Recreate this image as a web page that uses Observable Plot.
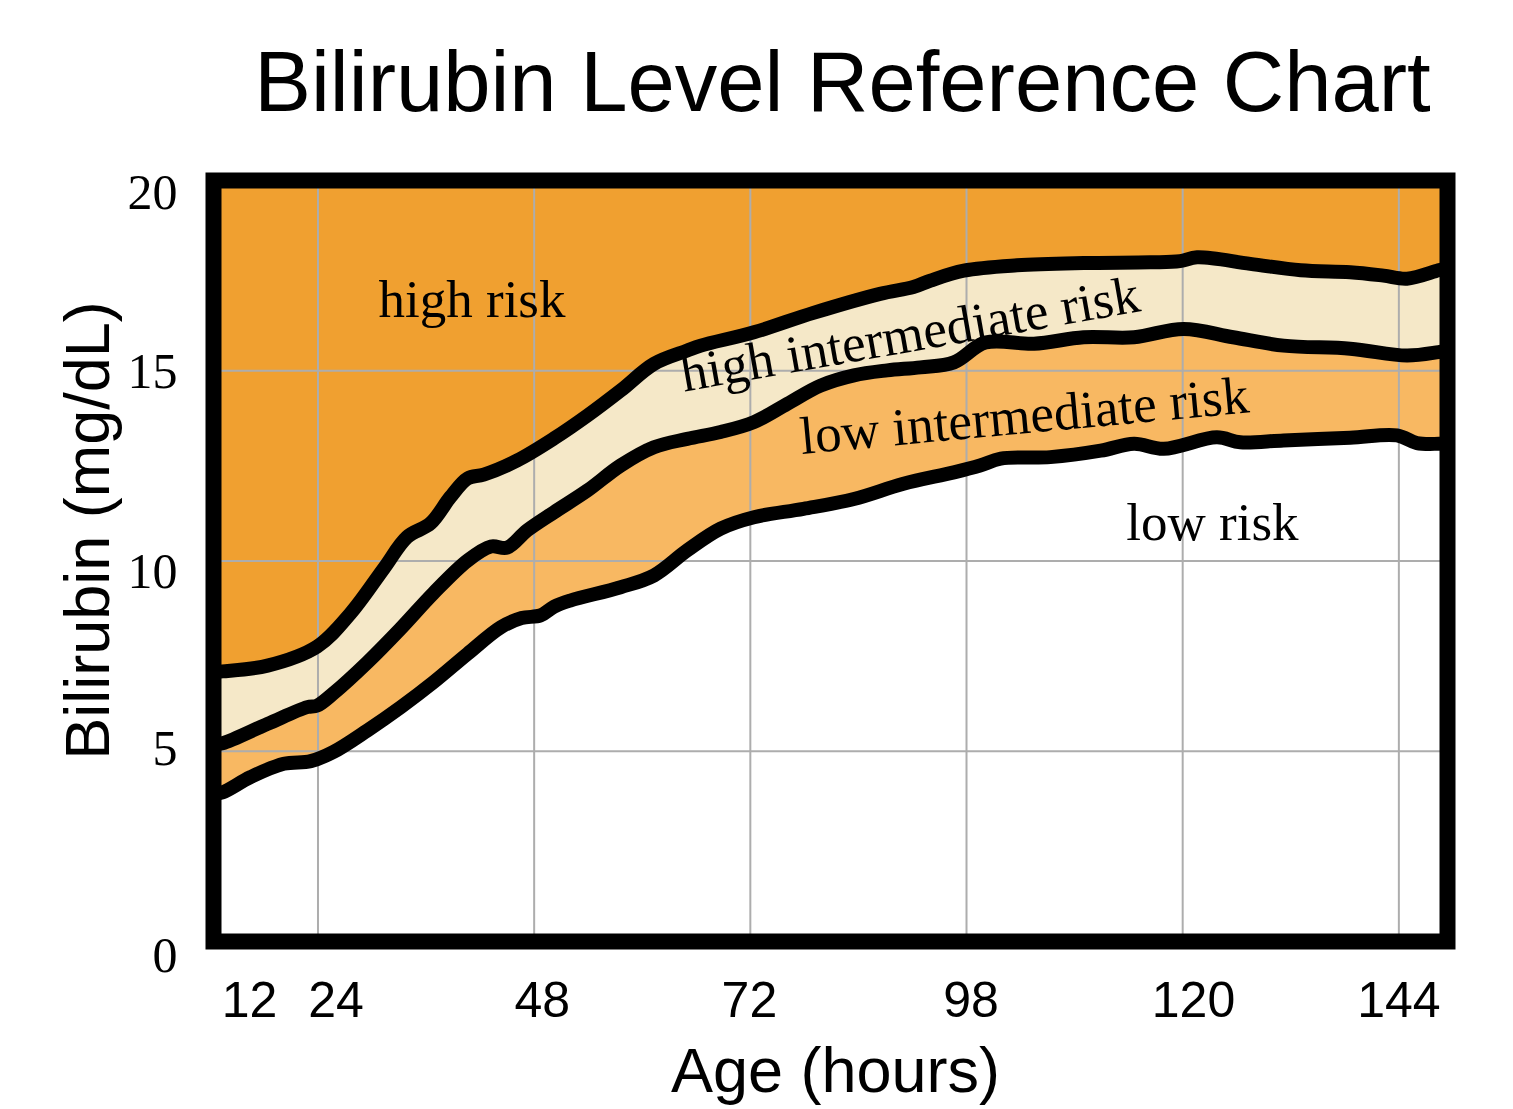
<!DOCTYPE html>
<html>
<head>
<meta charset="utf-8">
<script src="https://cdn.jsdelivr.net/npm/d3@7"></script>
<script src="https://cdn.jsdelivr.net/npm/@observablehq/plot@0.6"></script>
<style>html,body{margin:0;padding:0;background:#fff}</style>
</head>
<body>
<div id="chart"></div>
<script>
// ---- data ----
const hours95 = [12.4, 13.4, 18.4, 23.9, 27.6, 31.3, 33.9, 36.5, 38.7, 40.6, 42.4, 46.1, 50.2, 53.9, 57.6, 61.3, 65.0, 66.5, 72.4, 79.0, 86.4, 90.1, 92.0, 95.7, 101.6, 109.0, 116.4, 119.7, 121.6, 127.5, 133.1, 138.6, 142.3, 144.9, 148.4, 149.4];
const bili95  = [7.08, 7.10, 7.25, 7.75, 8.62, 9.80, 10.63, 10.99, 11.68, 12.17, 12.27, 12.64, 13.22, 13.82, 14.48, 15.18, 15.53, 15.66, 16.01, 16.52, 17.02, 17.20, 17.37, 17.63, 17.77, 17.83, 17.85, 17.88, 17.98, 17.81, 17.64, 17.59, 17.50, 17.42, 17.64, 17.70];

const hours75 = [12.4, 13.4, 18.4, 22.8, 23.9, 25.7, 29.5, 33.2, 36.8, 40.6, 43.2, 45.0, 47.2, 50.2, 53.9, 57.6, 61.3, 65.0, 68.7, 72.4, 76.1, 79.8, 83.5, 87.2, 90.9, 94.6, 98.1, 103.5, 109.0, 114.6, 120.1, 125.6, 131.2, 138.6, 144.9, 148.4, 149.4];
const bili75  = [5.18, 5.21, 5.72, 6.16, 6.20, 6.52, 7.34, 8.23, 9.15, 10.01, 10.38, 10.35, 10.80, 11.28, 11.85, 12.51, 12.99, 13.21, 13.39, 13.65, 14.13, 14.61, 14.88, 15.01, 15.09, 15.22, 15.74, 15.71, 15.88, 15.88, 16.10, 15.88, 15.66, 15.58, 15.40, 15.49, 15.53];

const hours40 = [12.4, 13.4, 16.5, 20.2, 23.2, 25.7, 29.5, 33.2, 36.8, 40.6, 44.3, 46.6, 48.7, 50.2, 52.0, 57.6, 61.3, 65.0, 68.7, 72.4, 77.9, 83.5, 89.0, 94.6, 97.5, 99.8, 105.3, 110.9, 114.6, 117.9, 123.8, 126.4, 131.2, 138.6, 143.8, 146.0, 148.4, 149.4];
const bili40  = [3.88, 3.92, 4.32, 4.67, 4.74, 4.98, 5.55, 6.16, 6.81, 7.56, 8.26, 8.50, 8.57, 8.80, 8.96, 9.31, 9.62, 10.28, 10.85, 11.15, 11.37, 11.63, 12.03, 12.33, 12.51, 12.69, 12.73, 12.90, 13.08, 12.95, 13.25, 13.12, 13.17, 13.24, 13.30, 13.10, 13.08, 13.09];

const zoneLabels = ["high risk", "high intermediate risk", "low intermediate risk", "low risk"];

const gridHours = [24, 48, 72, 96, 120, 144];
const gridBili = [5, 10, 15];

const xTickLabels = ["12", "24", "48", "72", "98", "120", "144"];
const xTickHours  = [16.4, 26.0, 48.9, 71.9, 96.5, 121.2, 144.0];
const yTickLabels = ["0", "5", "10", "15", "20"];
const yTickValues = [-0.37, 5.05, 9.72, 14.98, 19.67];

const titleText = "Bilirubin Level Reference Chart";
const xTitle = "Age (hours)";
const yTitle = "Bilirubin (mg/dL)";

// ---- tables ----
const toRows = (hs, bs) => hs.map((h, i) => ({hour: h, bili: bs[i]}));
const p95 = toRows(hours95, bili95);
const p75 = toRows(hours75, bili75);
const p40 = toRows(hours40, bili40);

const colHigh = "#F0A030";
const colHighInt = "#F5E8C8";
const colLowInt = "#F8B862";
const gridCol = "#ADADAD";
const curve = "catmull-rom";
const serif = "'Liberation Serif', 'Times New Roman', serif";
const sans = "'Liberation Sans', Arial, sans-serif";

const lineOpts = {x: "hour", y: "bili", stroke: "black", strokeWidth: 14, curve, clip: true, strokeLinejoin: "round", strokeLinecap: "round"};
const labelOpts = {fontSize: 53, fontFamily: serif, fill: "black", lineAnchor: "bottom", textAnchor: "middle"};

const chart = Plot.plot({
  width: 1513,
  height: 1109,
  marginTop: 180,
  marginBottom: 168,
  marginLeft: 213,
  marginRight: 66,
  x: {domain: [12.4, 149.4], axis: null},
  y: {domain: [0, 20], axis: null},
  style: {background: "white", fontFamily: sans, overflow: "visible"},
  marks: [
    Plot.frame({fill: colHigh, stroke: "none"}),
    Plot.areaY(p95, {x: "hour", y: "bili", fill: colHighInt, curve, clip: true}),
    Plot.areaY(p75, {x: "hour", y: "bili", fill: colLowInt, curve, clip: true}),
    Plot.areaY(p40, {x: "hour", y: "bili", fill: "white", curve, clip: true}),
    Plot.ruleX(gridHours, {stroke: gridCol, strokeWidth: 2}),
    Plot.ruleY(gridBili, {stroke: gridCol, strokeWidth: 2}),
    Plot.line(p95, lineOpts),
    Plot.line(p75, lineOpts),
    Plot.line(p40, lineOpts),
    Plot.text([zoneLabels[0]], {...labelOpts, x: () => 41.1, y: () => 16.41, text: d => d}),
    Plot.text([zoneLabels[1]], {...labelOpts, x: () => 90.05, y: () => 15.51, rotate: -10, text: d => d}),
    Plot.text([zoneLabels[2]], {...labelOpts, x: () => 102.6, y: () => 13.36, rotate: -5.3, text: d => d}),
    Plot.text([zoneLabels[3]], {...labelOpts, x: () => 123.3, y: () => 10.54, text: d => d}),
    Plot.text(xTickLabels, {x: (d, i) => xTickHours[i], text: d => d, frameAnchor: "bottom", dy: 40, lineAnchor: "top", fontSize: 50, fontFamily: sans, fill: "black"}),
    Plot.text(yTickLabels, {y: (d, i) => yTickValues[i], text: d => d, frameAnchor: "left", textAnchor: "end", dx: -36, fontSize: 50, fontFamily: serif, fill: "black"}),
    Plot.text([titleText], {text: d => d, frameAnchor: "top", dx: 12, dy: -69.3, lineAnchor: "bottom", fontSize: 85, fontFamily: sans, fill: "black"}),
    Plot.text([xTitle], {text: d => d, frameAnchor: "bottom", dx: 5, dy: 150, lineAnchor: "bottom", fontSize: 63, fontFamily: sans, fill: "black"}),
    Plot.text([yTitle], {text: d => d, frameAnchor: "left", textAnchor: "middle", rotate: -90, dx: -105, dy: -30.5, lineAnchor: "bottom", fontSize: 63, fontFamily: sans, fill: "black"}),
    Plot.frame({stroke: "black", strokeWidth: 16})
  ]
});
document.getElementById("chart").append(chart);
</script>
</body>
</html>
